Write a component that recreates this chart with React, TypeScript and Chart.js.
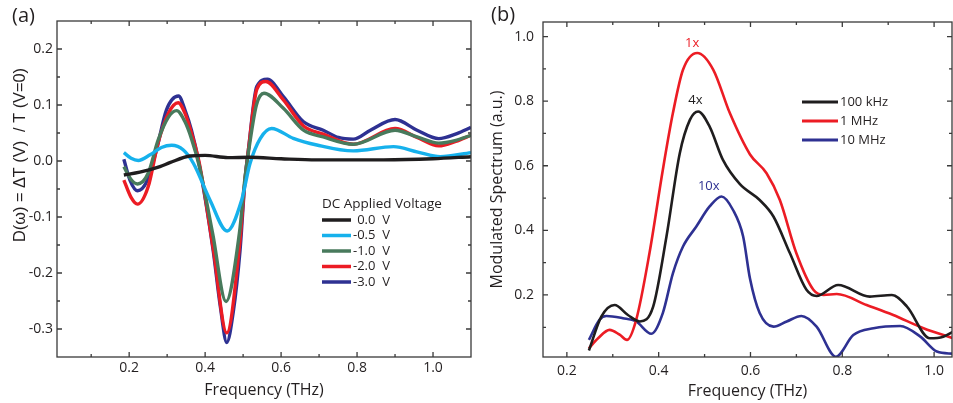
import React, { useEffect, useRef } from "react";
import { Chart, registerables } from "chart.js";

Chart.register(...registerables);

const FONT = "'Open Sans', 'Noto Sans', sans-serif";
const YFONT = "'Liberation Sans', Arial, sans-serif";
const TEXT = "#231f20";

// ---------- Panel (a): D(ω) vs frequency for DC applied voltages ----------
const freqA_0V = [0.186, 0.228, 0.281, 0.307, 0.36, 0.4, 0.46, 0.518, 0.6, 0.694, 0.87, 1.0, 1.1];
const dA_0V = [-0.025, -0.02, -0.01, -0.003, 0.009, 0.01, 0.006, 0.0066, 0.004, 0.002, 0.002, 0.004, 0.0077];

const freqA_05V = [0.186, 0.205, 0.224, 0.255, 0.285, 0.312, 0.342, 0.369, 0.413, 0.458, 0.496, 0.518, 0.545, 0.575, 0.632, 0.694, 0.79, 0.896, 0.96, 1.019, 1.1];
const dA_05V = [0.015, 0.005, 0.001, 0.011, 0.024, 0.028, 0.02, -0.004, -0.07, -0.125, -0.07, -0.005, 0.04, 0.058, 0.0405, 0.0286, 0.018, 0.0256, 0.016, 0.0077, 0.015];

const freqA_1V = [0.186, 0.205, 0.222, 0.25, 0.276, 0.303, 0.325, 0.347, 0.364, 0.385, 0.42, 0.455, 0.49, 0.505, 0.515, 0.535, 0.555, 0.606, 0.659, 0.711, 0.79, 0.9, 0.958, 1.015, 1.06, 1.1];
const dA_1V = [-0.01, -0.033, -0.041, -0.022, 0.037, 0.078, 0.09, 0.07, 0.04, -0.01, -0.13, -0.251, -0.13, -0.03, 0.02, 0.1, 0.121, 0.094, 0.055, 0.043, 0.03, 0.055, 0.043, 0.032, 0.037, 0.046];

const freqA_2V = [0.186, 0.205, 0.222, 0.25, 0.276, 0.303, 0.329, 0.347, 0.364, 0.385, 0.421, 0.457, 0.49, 0.505, 0.514, 0.536, 0.56, 0.606, 0.659, 0.711, 0.79, 0.9, 0.958, 1.015, 1.06, 1.1];
const dA_2V = [-0.034, -0.065, -0.077, -0.046, 0.032, 0.085, 0.104, 0.085, 0.05, -0.005, -0.155, -0.307, -0.155, -0.034, 0.02, 0.128, 0.142, 0.109, 0.0625, 0.048, 0.03, 0.058, 0.042, 0.027, 0.035, 0.046];

const freqA_3V = [0.186, 0.202, 0.222, 0.246, 0.272, 0.298, 0.33, 0.347, 0.364, 0.384, 0.421, 0.44, 0.457, 0.474, 0.492, 0.505, 0.514, 0.536, 0.564, 0.606, 0.659, 0.711, 0.751, 0.79, 0.835, 0.9, 0.958, 1.015, 1.063, 1.1];
const dA_3V = [0.003, -0.034, -0.053, -0.037, 0.02, 0.091, 0.116, 0.091, 0.055, -0.005, -0.159, -0.26, -0.324, -0.27, -0.159, -0.034, 0.02, 0.133, 0.146, 0.115, 0.07, 0.055, 0.042, 0.039, 0.055, 0.074, 0.055, 0.04, 0.049, 0.06];

const voltLabels = ["0.0  V", "-0.5  V", "-1.0  V", "-2.0  V", "-3.0  V"];
const voltColors = ["#1f1d1e", "#16b1ec", "#487a5c", "#ec1c24", "#2e3192"];
const legendTitleA = "DC Applied Voltage";
const yTitleA = "D(ω) = ΔT (V)  / T (V=0)";

// ---------- Panel (b): modulated spectrum ----------
const freqB_100k = [0.248, 0.275, 0.304, 0.333, 0.359, 0.388, 0.417, 0.446, 0.468, 0.486, 0.511, 0.54, 0.577, 0.62, 0.65, 0.686, 0.722, 0.744, 0.791, 0.86, 0.908, 0.941, 0.991, 1.02, 1.042];
const specB_100k = [0.028, 0.133, 0.169, 0.138, 0.118, 0.164, 0.381, 0.639, 0.742, 0.768, 0.721, 0.618, 0.543, 0.494, 0.443, 0.329, 0.216, 0.197, 0.231, 0.195, 0.2, 0.164, 0.066, 0.071, 0.087];

const freqB_1M = [0.248, 0.268, 0.293, 0.315, 0.331, 0.351, 0.38, 0.409, 0.431, 0.453, 0.484, 0.519, 0.555, 0.599, 0.635, 0.664, 0.7, 0.737, 0.759, 0.788, 0.853, 0.911, 0.977, 1.042];
const specB_1M = [0.035, 0.066, 0.092, 0.077, 0.061, 0.123, 0.33, 0.587, 0.763, 0.897, 0.949, 0.897, 0.763, 0.635, 0.577, 0.494, 0.329, 0.216, 0.2, 0.203, 0.169, 0.138, 0.097, 0.066];

const freqB_10M = [0.248, 0.271, 0.286, 0.322, 0.351, 0.384, 0.409, 0.431, 0.453, 0.482, 0.511, 0.537, 0.562, 0.584, 0.599, 0.62, 0.65, 0.679, 0.711, 0.744, 0.786, 0.824, 0.868, 0.926, 0.97, 1.006, 1.042];
const specB_10M = [0.061, 0.123, 0.135, 0.128, 0.118, 0.08, 0.144, 0.267, 0.35, 0.412, 0.474, 0.505, 0.463, 0.381, 0.25, 0.144, 0.102, 0.118, 0.135, 0.102, 0.009, 0.076, 0.097, 0.104, 0.071, 0.025, 0.018];

const modLabels = ["100 kHz", "1 MHz", "10 MHz"];
const modColors = ["#1f1d1e", "#ec1c24", "#2e3192"];
const gainLabels = ["4x", "1x", "10x"];
const gainFreq = [0.48, 0.473, 0.509];
const gainLevel = [0.804, 0.98, 0.535];

// ---------- helpers ----------
const isMult = (v: number, s: number) => Math.abs(v / s - Math.round(v / s)) < 1e-6;
const fmt1 = (v: number) => (Math.abs(v) < 1e-9 ? "0.0" : v.toFixed(1));
const pts = (xs: number[], ys: number[]) => xs.map((x, i) => ({ x, y: ys[i] }));

const framePlugin = {
  id: "frameTicks",
  afterDatasetsDraw(chart: any) {
    const { ctx, chartArea: a, scales } = chart;
    ctx.save();
    ctx.strokeStyle = "#3a3a3a";
    ctx.lineWidth = 1.3;
    ctx.beginPath();
    const xs = scales.x;
    xs.ticks.forEach((t: any) => {
      const p = xs.getPixelForValue(t.value);
      if (p < a.left + 1 || p > a.right - 1) return;
      const len = t.label ? 5 : 3;
      ctx.moveTo(p, a.bottom);
      ctx.lineTo(p, a.bottom - len);
      ctx.moveTo(p, a.top);
      ctx.lineTo(p, a.top + len);
    });
    const ys = scales.y;
    ys.ticks.forEach((t: any) => {
      const p = ys.getPixelForValue(t.value);
      if (p < a.top + 1 || p > a.bottom - 1) return;
      const len = t.label ? 5 : 3;
      ctx.moveTo(a.left, p);
      ctx.lineTo(a.left + len, p);
      ctx.moveTo(a.right, p);
      ctx.lineTo(a.right - len, p);
    });
    ctx.stroke();
    ctx.strokeRect(a.left, a.top, a.right - a.left, a.bottom - a.top);
    ctx.restore();
  },
};

const tickFont = { family: FONT, size: 14 };
const titleFont = { family: FONT, size: 16 };

function configA(): any {
  const series = [
    [freqA_0V, dA_0V],
    [freqA_05V, dA_05V],
    [freqA_1V, dA_1V],
    [freqA_2V, dA_2V],
    [freqA_3V, dA_3V],
  ];
  const legendPlugin = {
    id: "legendA",
    afterDraw(chart: any) {
      const ctx = chart.ctx;
      ctx.save();
      ctx.fillStyle = TEXT;
      ctx.textAlign = "left";
      ctx.textBaseline = "middle";
      ctx.font = `13.5px ${FONT}`;
      ctx.fillText(legendTitleA, 322, 204);
      ctx.font = `13px ${FONT}`;
      const dash = ctx.measureText("-").width;
      chart.data.datasets.forEach((ds: any, i: number) => {
        const y = 220 + i * 15.5;
        ctx.strokeStyle = ds.borderColor;
        ctx.lineWidth = 3.5;
        ctx.beginPath();
        ctx.moveTo(322, y);
        ctx.lineTo(351, y);
        ctx.stroke();
        const lbl: string = ds.label;
        ctx.fillText(lbl, lbl.startsWith("-") ? 353 : 353 + dash, y);
      });
      // panel letter
      ctx.font = `20px ${FONT}`;
      ctx.textBaseline = "alphabetic";
      ctx.fillText("(a)", 12, 22);
      // y-axis title, fitted to the reference length
      let size = 17;
      ctx.font = `${size}px ${YFONT}`;
      const w = ctx.measureText(yTitleA).width;
      if (w > 174) {
        size = (size * 174) / w;
        ctx.font = `${size.toFixed(2)}px ${YFONT}`;
      }
      ctx.translate(20, 155);
      ctx.rotate(-Math.PI / 2);
      ctx.textAlign = "center";
      ctx.textBaseline = "middle";
      ctx.fillText(yTitleA, 0, 0);
      ctx.restore();
    },
  };
  return {
    type: "line",
    data: {
      datasets: series.map(([xs, ys], i) => ({
        label: voltLabels[i],
        data: pts(xs, ys),
        borderColor: voltColors[i],
        borderWidth: 3.4,
        pointRadius: 0,
        fill: false,
        cubicInterpolationMode: "monotone",
      })),
    },
    options: {
      responsive: false,
      animation: false,
      devicePixelRatio: 1,
      parsing: false,
      layout: { padding: { left: 0, top: 21, right: 9, bottom: 0 } },
      plugins: { legend: { display: false }, tooltip: { enabled: false } },
      scales: {
        x: {
          type: "linear",
          position: "bottom",
          min: 0.01,
          max: 1.1,
          afterFit: (s: any) => {
            s.height = 46;
          },
          grid: { display: false, drawTicks: false },
          border: { display: false },
          ticks: {
            stepSize: 0.1,
            includeBounds: false,
            autoSkip: false,
            maxRotation: 0,
            padding: 3,
            font: tickFont,
            color: TEXT,
            callback: (v: number) => (isMult(v, 0.2) && v > 0.15 ? fmt1(v) : ""),
          },
          title: { display: true, text: "Frequency (THz)", font: titleFont, color: TEXT, padding: { top: 0, bottom: 3 } },
        },
        y: {
          type: "linear",
          min: -0.35,
          max: 0.25,
          afterFit: (s: any) => {
            s.width = 57;
          },
          grid: { display: false, drawTicks: false },
          border: { display: false },
          ticks: {
            stepSize: 0.05,
            includeBounds: false,
            autoSkip: false,
            padding: 4,
            font: tickFont,
            color: TEXT,
            callback: (v: number) => (isMult(v, 0.1) ? fmt1(v) : ""),
          },
        },
      },
    },
    plugins: [framePlugin, legendPlugin],
  };
}

function configB(): any {
  const series = [
    [freqB_100k, specB_100k],
    [freqB_1M, specB_1M],
    [freqB_10M, specB_10M],
  ];
  const extraPlugin = {
    id: "extraB",
    afterDraw(chart: any) {
      const ctx = chart.ctx;
      const { x, y } = chart.scales;
      ctx.save();
      ctx.textAlign = "left";
      ctx.textBaseline = "middle";
      ctx.font = `13px ${FONT}`;
      chart.data.datasets.forEach((ds: any, i: number) => {
        const yy = 102 + i * 19;
        ctx.strokeStyle = ds.borderColor;
        ctx.lineWidth = 3;
        ctx.beginPath();
        ctx.moveTo(322, yy);
        ctx.lineTo(358, yy);
        ctx.stroke();
        ctx.fillStyle = TEXT;
        ctx.fillText(ds.label, 360, yy);
      });
      ctx.textAlign = "center";
      ctx.font = `13px ${FONT}`;
      gainLabels.forEach((g, i) => {
        ctx.fillStyle = modColors[i];
        ctx.fillText(g, x.getPixelForValue(gainFreq[i]), y.getPixelForValue(gainLevel[i]));
      });
      ctx.fillStyle = TEXT;
      ctx.textAlign = "left";
      ctx.textBaseline = "alphabetic";
      ctx.font = `20px ${FONT}`;
      ctx.fillText("(b)", 11, 21);
      ctx.restore();
    },
  };
  return {
    type: "line",
    data: {
      datasets: series.map(([xs, ys], i) => ({
        label: modLabels[i],
        data: pts(xs, ys),
        borderColor: modColors[i],
        borderWidth: 2.6,
        pointRadius: 0,
        fill: false,
        cubicInterpolationMode: "monotone",
      })),
    },
    options: {
      responsive: false,
      animation: false,
      devicePixelRatio: 1,
      parsing: false,
      layout: { padding: { left: 0, top: 22, right: 1, bottom: 0 } },
      plugins: { legend: { display: false }, tooltip: { enabled: false } },
      scales: {
        x: {
          type: "linear",
          position: "bottom",
          min: 0.148,
          max: 1.039,
          afterFit: (s: any) => {
            s.height = 46;
          },
          grid: { display: false, drawTicks: false },
          border: { display: false },
          ticks: {
            stepSize: 0.1,
            includeBounds: false,
            autoSkip: false,
            maxRotation: 0,
            padding: 6,
            font: tickFont,
            color: TEXT,
            callback: (v: number) => (isMult(v, 0.2) ? fmt1(v) : ""),
          },
          title: { display: true, text: "Frequency (THz)", font: titleFont, color: TEXT, padding: { top: 0, bottom: 2 } },
        },
        y: {
          type: "linear",
          min: 0.008,
          max: 1.045,
          afterFit: (s: any) => {
            s.width = 63;
          },
          grid: { display: false, drawTicks: false },
          border: { display: false },
          ticks: {
            stepSize: 0.1,
            includeBounds: false,
            autoSkip: false,
            padding: 9,
            font: tickFont,
            color: TEXT,
            callback: (v: number) => (isMult(v, 0.2) ? fmt1(v) : ""),
          },
          title: { display: true, text: "Modulated Spectrum (a.u.)", font: { family: FONT, size: 16 }, color: TEXT, padding: { top: 8, bottom: 0 } },
        },
      },
    },
    plugins: [framePlugin, extraPlugin],
  };
}

export default function App() {
  const refA = useRef<HTMLCanvasElement>(null);
  const refB = useRef<HTMLCanvasElement>(null);
  useEffect(() => {
    const a = new Chart(refA.current as HTMLCanvasElement, configA());
    const b = new Chart(refB.current as HTMLCanvasElement, configB());
    return () => {
      a.destroy();
      b.destroy();
    };
  }, []);
  return (
    <div style={{ position: "fixed", left: 0, top: 0, width: 953, height: 403, background: "#fff", overflow: "hidden" }}>
      <canvas ref={refA} width={480} height={403} style={{ position: "absolute", left: 0, top: 0 }} />
      <canvas ref={refB} width={473} height={403} style={{ position: "absolute", left: 480, top: 0 }} />
    </div>
  );
}
